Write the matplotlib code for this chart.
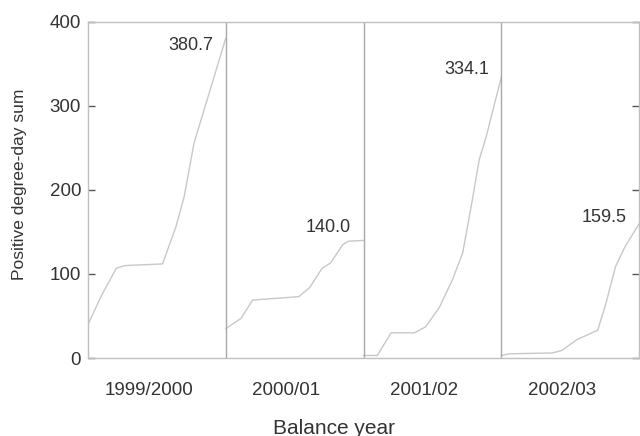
import numpy as np
import matplotlib.pyplot as plt

plt.rcParams['font.family'] = ['Liberation Sans', 'DejaVu Sans']

# balance years, one panel each
years = ['1999/2000', '2000/01', '2001/02', '2002/03']

# position within each balance year (0 = start, 1 = end) and cumulative PDD
pos_1999 = [0.0, 0.10, 0.206, 0.266, 0.541, 0.638, 0.698, 0.770, 1.0]
pdd_1999 = [40, 75, 107, 110, 112, 156, 192, 256, 380.7]

pos_2000 = [0.0, 0.11, 0.195, 0.28, 0.53, 0.61, 0.70, 0.76, 0.85, 0.89, 1.0]
pdd_2000 = [35, 47, 69, 70, 73, 84, 107, 113, 135, 139, 140.0]

pos_2001 = [0.0, 0.10, 0.20, 0.37, 0.45, 0.55, 0.645, 0.72, 0.79, 0.84, 0.89, 1.0]
pdd_2001 = [3, 3, 30, 30, 37, 60, 93, 125, 188, 236, 263, 334.1]

pos_2002 = [0.0, 0.06, 0.37, 0.44, 0.55, 0.70, 0.76, 0.83, 0.90, 1.0]
pdd_2002 = [3, 5, 6, 9, 22, 33, 65, 109, 133, 159.5]

positions = [pos_1999, pos_2000, pos_2001, pos_2002]
sums = [pdd_1999, pdd_2000, pdd_2001, pdd_2002]
end_labels = ['380.7', '140.0', '334.1', '159.5']
label_y = [372, 155, 343, 167]

txt = '#333333'

fig = plt.figure(figsize=(6.4, 4.36), dpi=100)
ax = fig.add_axes([88/640, 78/436, 551/640, 336/436])

for i, (p, s) in enumerate(zip(positions, sums)):
	x = i + np.array(p)
	ax.plot(x, s, color='#c8c8c8', lw=1.0)
	ax.text(i + 0.91, label_y[i], end_labels[i], ha='right', va='center', fontsize=13, color=txt)
	if i > 0:
		ax.axvline(i, color='#a8a8a8', lw=1.0)

ax.set_xlim(0, 4)
ax.set_ylim(0, 400)
ax.set_yticks([0, 100, 200, 300, 400])
ax.tick_params(axis='y', direction='in', length=5, width=1.0, color='#555555',
	labelsize=13.5, labelcolor=txt, pad=5, right=True)
ax.set_xticks(np.arange(4) + 0.44)
ax.set_xticklabels(years)
ax.tick_params(axis='x', length=0, labelsize=13.5, labelcolor=txt, pad=17)

for sp in ax.spines.values():
	sp.set_color('#c0c0c0')
	sp.set_linewidth(1.0)

fig.text(20/640, 1 - 184/436, 'Positive degree-day sum', rotation=90, ha='center', va='center',
	fontsize=12.5, color=txt)
fig.text(334/640, 1 - 428/436, 'Balance year', ha='center', va='center', fontsize=15, color=txt)

fig.savefig('out.png', dpi=100)
